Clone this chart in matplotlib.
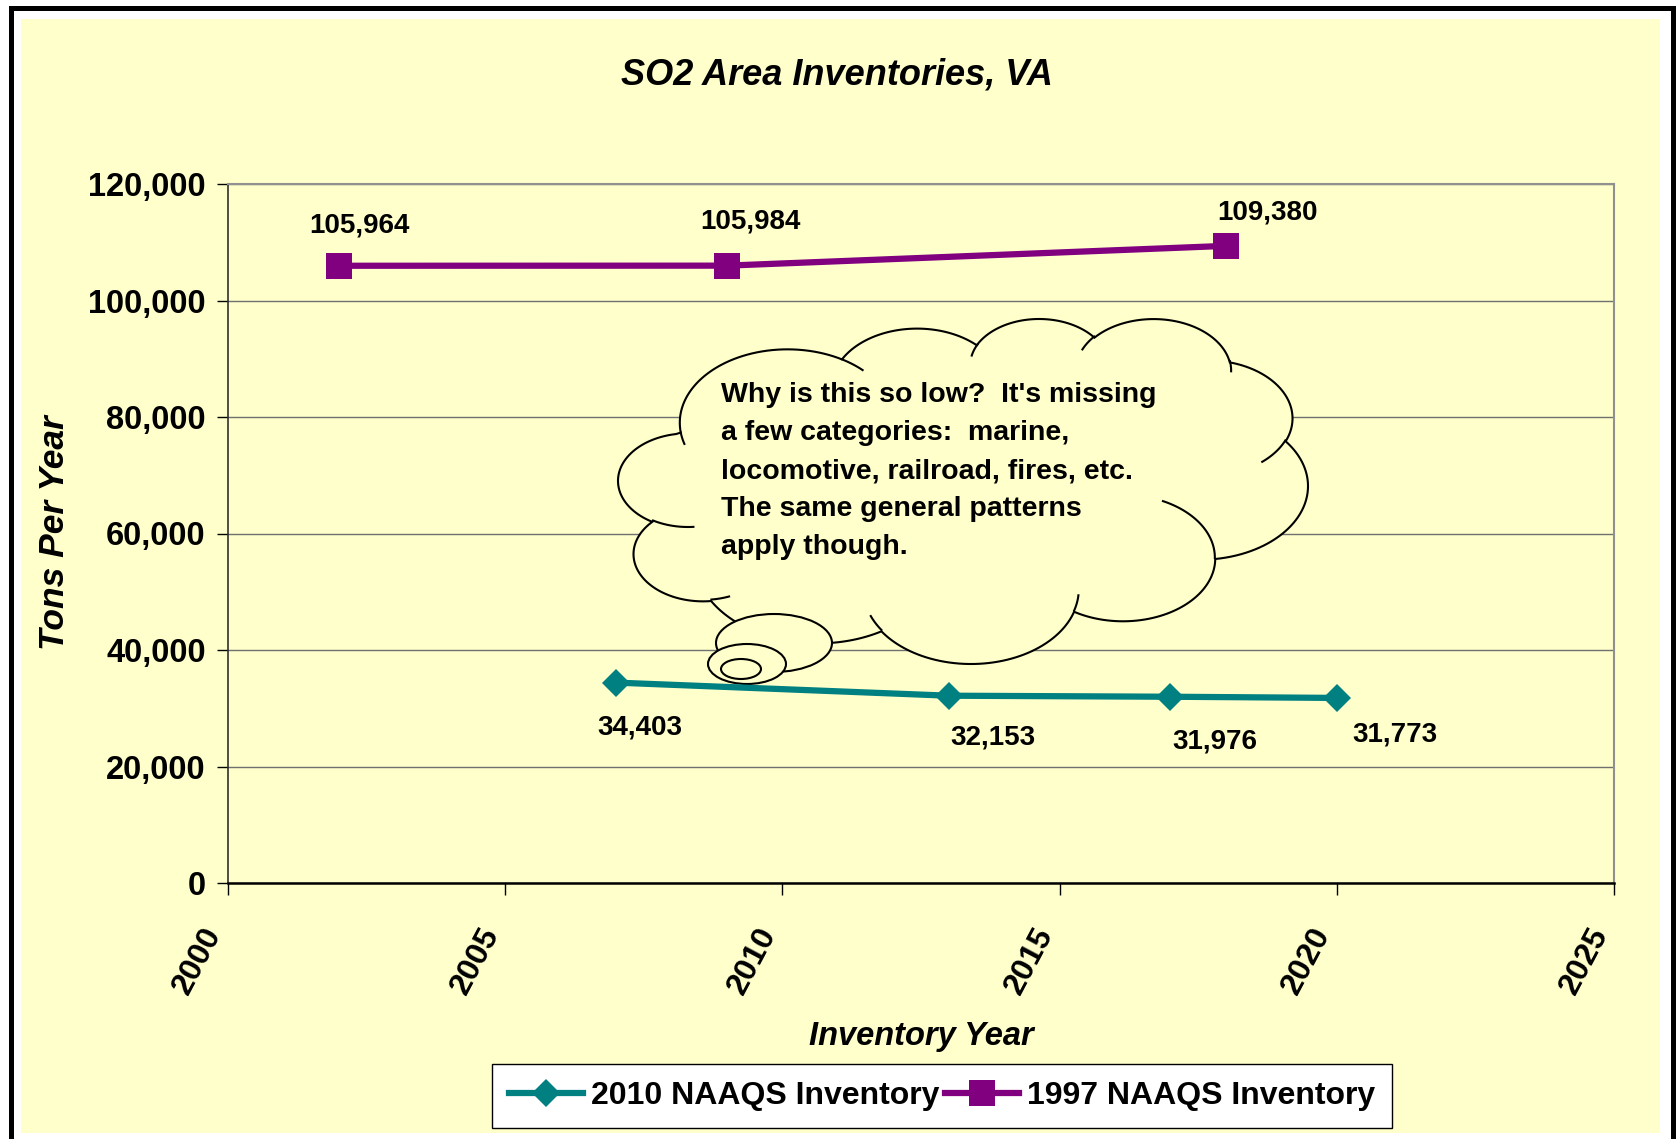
import numpy as np
import matplotlib

matplotlib.use("Agg")
from matplotlib import pyplot as plt
from matplotlib.patches import Ellipse, PathPatch, Rectangle
from matplotlib.path import Path
from matplotlib.ticker import FuncFormatter, FixedLocator

# ======= Data =====================================================

years_2010 = [2007, 2013, 2017, 2020]
tons_2010 = [34403, 32153, 31976, 31773]

years_1997 = [2002, 2009, 2018]
tons_1997 = [105964, 105984, 109380]

series_labels = ["2010 NAAQS Inventory", "1997 NAAQS Inventory"]
title_text = "SO2 Area Inventories, VA"
x_label = "Inventory Year"
y_label = "Tons Per Year"

x_ticks = [2000, 2005, 2010, 2015, 2020, 2025]
y_ticks = [0, 20000, 40000, 60000, 80000, 100000, 120000]

note_text = (
    "Why is this so low?  It's missing\n"
    "a few categories:  marine,\n"
    "locomotive, railroad, fires, etc.\n"
    "The same general patterns\n"
    "apply though."
)

# ======= Style / layout ============================================

W, H = 1679, 1139  # px
BG = "#FFFFCC"
TEAL = "#008080"
PURPLE = "#800080"

# data label offsets (points)
offsets_2010 = [(17, -32), (32, -30), (32, -32), (42, -26)]
offsets_1997 = [(15, 29), (17, 32), (30, 24)]

# Office cloud callout outline (43200 x 43200 shape units, y down)
CLOUD_START = (3900, 14370)
CLOUD_ARCS = [
    (6753, 9190, -11429249, 7426832),
    (5333, 7267, -8646143, 5396714),
    (4365, 5945, -8748475, 5983381),
    (4857, 6595, -7859164, 7034504),
    (5333, 7273, -4722533, 6541615),
    (6775, 9220, -2776035, 7816140),
    (5785, 7867, 37501, 6842000),
    (6752, 9215, 1347096, 6910353),
    (7720, 10543, 3974558, 4542661),
    (4360, 5918, -16496525, 8804134),
    (4345, 5945, -14809710, 9151131),
]
CLOUD_STUBS = [
    ((4693, 26177), 4345, 5945, 5204520, 1585770),
    ((6928, 34899), 4360, 5918, 4416628, 686848),
    ((16478, 39090), 6752, 9215, 8257449, 844866),
    ((28827, 34751), 6752, 9215, 387196, 959901),
    ((34129, 22954), 5785, 7867, -4217541, 4255042),
    ((41798, 15354), 5333, 7273, 1819082, 1665090),
    ((38324, 5426), 4857, 6595, -824660, 891534),
    ((29078, 3952), 4857, 6595, -8950887, 1091722),
    ((22141, 4720), 4365, 5945, -9809656, 1061181),
    ((14000, 5192), 6753, 9190, -4002417, 739161),
    ((4127, 15789), 6753, 9190, 9459261, 711490),
]
CLOUD_BOX = (618, 319, 1308, 664)  # px: left, top, right, bottom

plt.rcParams["font.family"] = ["Liberation Sans", "DejaVu Sans"]


def fx(x: float) -> float:
    return x / W


def fy(y: float) -> float:
    return 1 - y / H


def arc_points(start, w_r, h_r, st_ang, sw_ang, n=60):
    st = np.deg2rad(st_ang / 60000.0)
    sw = np.deg2rad(sw_ang / 60000.0)
    th = np.linspace(st, st + sw, n)
    t = np.unwrap(np.arctan2(w_r * np.sin(th), h_r * np.cos(th)))
    cx = start[0] - w_r * np.cos(t[0])
    cy = start[1] - h_r * np.sin(t[0])
    return np.column_stack([cx + w_r * np.cos(t), cy + h_r * np.sin(t)])


def draw_cloud(fig, ax):
    pieces = [np.array([CLOUD_START], dtype=float)]
    cur = CLOUD_START
    for w_r, h_r, st, sw in CLOUD_ARCS:
        seg = arc_points(cur, w_r, h_r, st, sw)
        pieces.append(seg[1:])
        cur = seg[-1]
    outline = np.vstack(pieces)

    xmin, ymin = outline.min(axis=0)
    xmax, ymax = outline.max(axis=0)
    left, top, right, bottom = CLOUD_BOX

    def to_fig(p):
        px = left + (p[:, 0] - xmin) / (xmax - xmin) * (right - left)
        py = top + (p[:, 1] - ymin) / (ymax - ymin) * (bottom - top)
        return np.column_stack([px / W, 1 - py / H])

    path = Path(to_fig(outline), closed=True)
    ax.add_patch(PathPatch(path, facecolor=BG, edgecolor="black", lw=1.5,
                           transform=fig.transFigure, clip_on=False, zorder=2.5))
    for start, w_r, h_r, st, sw in CLOUD_STUBS:
        seg = to_fig(arc_points(start, w_r, h_r, st, sw))
        ax.plot(seg[:, 0], seg[:, 1], color="black", lw=1.5,
                transform=fig.transFigure, clip_on=False, zorder=2.6)

    # thought bubbles (px centre, width, height)
    for cx, cy, w, h in [(774, 643, 116, 58), (747, 664, 78, 40), (741, 669, 40, 20)]:
        ax.add_patch(Ellipse((fx(cx), fy(cy)), w / W, h / H, facecolor=BG,
                             edgecolor="black", lw=1.5, transform=fig.transFigure,
                             clip_on=False, zorder=2.7))


def main() -> None:
    fig = plt.figure(figsize=(W / 100, H / 100), dpi=100, facecolor="white")

    # 背景と枠
    fig.patches.append(Rectangle((fx(21), fy(1133)), (1660 - 21) / W, (1133 - 19) / H,
                                 facecolor=BG, edgecolor="none",
                                 transform=fig.transFigure, zorder=-2))
    fig.patches.append(Rectangle((fx(10.5), fy(1150)), (1672.5 - 10.5) / W, (1150 - 8) / H,
                                 facecolor="none", edgecolor="black", lw=3.6,
                                 transform=fig.transFigure, zorder=-1))

    ax = fig.add_axes([fx(228), fy(883), (1614 - 228) / W, (883 - 184) / H])
    ax.set_facecolor(BG)

    ax.plot(years_2010, tons_2010, color=TEAL, lw=4.5, marker="D", markersize=14,
            markeredgewidth=0, label=series_labels[0], zorder=3)
    ax.plot(years_1997, tons_1997, color=PURPLE, lw=4.5, marker="s", markersize=19,
            markeredgewidth=0, label=series_labels[1], zorder=3)

    for x, y, off in zip(years_2010, tons_2010, offsets_2010):
        ax.annotate(f"{y:,}", (x, y), xytext=off, textcoords="offset points",
                    ha="center", va="center", fontsize=20, fontweight="bold")
    for x, y, off in zip(years_1997, tons_1997, offsets_1997):
        ax.annotate(f"{y:,}", (x, y), xytext=off, textcoords="offset points",
                    ha="center", va="center", fontsize=20, fontweight="bold")

    ax.set_xlim(2000, 2025)
    ax.set_ylim(0, 120000)
    ax.xaxis.set_major_locator(FixedLocator(x_ticks))
    ax.yaxis.set_major_locator(FixedLocator(y_ticks))
    ax.yaxis.set_major_formatter(FuncFormatter(lambda v, _: f"{int(v):,}"))

    ax.yaxis.grid(True, color="#707070", lw=1.0)
    ax.set_axisbelow(True)

    for side in ["top", "right"]:
        ax.spines[side].set_color("#909090")
        ax.spines[side].set_linewidth(1.5)
    ax.spines["left"].set_color("#303030")
    ax.spines["left"].set_linewidth(1.2)
    ax.spines["bottom"].set_color("black")
    ax.spines["bottom"].set_linewidth(1.8)

    ax.tick_params(axis="x", direction="out", length=8.5, width=1, pad=20)
    ax.tick_params(axis="y", direction="out", length=8, width=1, pad=8)
    for lbl in ax.get_xticklabels():
        lbl.set(fontsize=23, fontweight="bold", rotation=62, ha="right")
    for lbl in ax.get_yticklabels():
        lbl.set(fontsize=23.5, fontweight="bold")

    fig.text(fx(837), fy(75), title_text, ha="center", va="center",
             fontsize=26, fontweight="bold", fontstyle="italic")
    fig.text(fx(921), fy(1036), x_label, ha="center", va="center",
             fontsize=23.5, fontweight="bold", fontstyle="italic")
    fig.text(fx(55), fy(533), y_label, ha="center", va="center", rotation=90,
             fontsize=25.5, fontweight="bold", fontstyle="italic")

    draw_cloud(fig, ax)
    fig.text(fx(721), fy(382.5), note_text, ha="left", va="top", fontsize=20.5,
             fontweight="bold", linespacing=1.6, zorder=5)

    leg = ax.legend(loc="center", bbox_to_anchor=(fx(942), fy(1096)),
                    bbox_transform=fig.transFigure, ncol=2, frameon=True,
                    fancybox=False, framealpha=1, facecolor="white",
                    edgecolor="black", borderpad=0.52, handlelength=2.3,
                    handletextpad=0.25, columnspacing=0.2, borderaxespad=0,
                    prop={"size": 23, "weight": "bold"})
    leg.get_frame().set_linewidth(1.0)

    fig.savefig("out.png", dpi=100, facecolor=fig.get_facecolor())
    plt.close(fig)


if __name__ == "__main__":
    main()
